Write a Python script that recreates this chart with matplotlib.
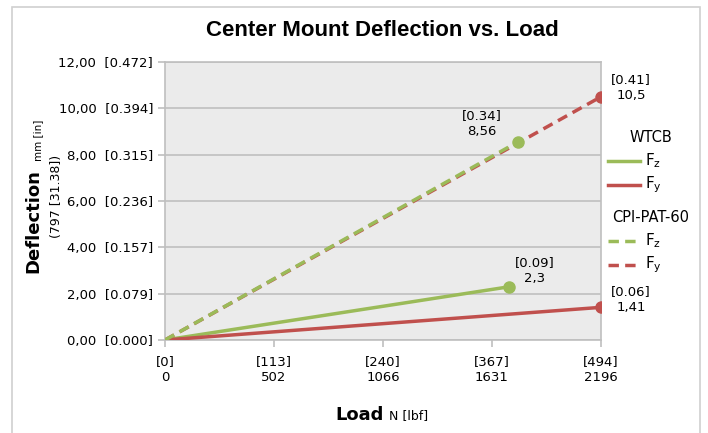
import matplotlib
matplotlib.use("Agg")
from matplotlib import pyplot as plt
from matplotlib.patches import Rectangle
from matplotlib.lines import Line2D
import numpy as np

# Data (load in N, deflection in mm)
wtcb_fz_x = [0, 1735]
wtcb_fz_y = [0, 2.3]
wtcb_fy_x = [0, 2196]
wtcb_fy_y = [0, 1.41]
cpi_fz_x = [0, 1779]
cpi_fz_y = [0, 8.56]
cpi_fy_x = [0, 2196]
cpi_fy_y = [0, 10.5]

xtick_labels = ["[0]\n0", "[113]\n502", "[240]\n1066", "[367]\n1631", "[494]\n2196"]
ytick_vals = [0, 2, 4, 6, 8, 10, 12]
ytick_labels = ["0,00  [0.000]", "2,00  [0.079]", "4,00  [0.157]", "6,00  [0.236]",
                "8,00  [0.315]", "10,00  [0.394]", "12,00  [0.472]"]

# end labels: (x, y, text, offset in pixels)
end_labels = [
    (2196, 10.5, "[0.41]\n10,5", (30, 9)),
    (1779, 8.56, "[0.34]\n8,56", (-36, 18)),
    (1735, 2.3, "[0.09]\n2,3", (25, 16)),
    (2196, 1.41, "[0.06]\n1,41", (30, 8)),
]

green = "#9BBB59"
red = "#C0504D"
gridc = "#BFBFBF"
dash = (0, (3, 1.8))

W, H = 708, 433
fig = plt.figure(figsize=(W / 100, H / 100), dpi=100)
ax = fig.add_axes([165 / W, 1 - 340 / H, 436 / W, 278 / H])
ax.set_facecolor("#EBEBEB")

# outer chart border
fig.patches.append(Rectangle((12 / W, -0.1), 688 / W, 1.1 - 7 / H, transform=fig.transFigure,
                             fill=False, edgecolor="#D0D0D0", linewidth=1.2))

ax.plot(wtcb_fz_x, wtcb_fz_y, color=green, lw=2.5, marker="o", ms=8, markevery=[-1],
        solid_capstyle="butt", zorder=3)
ax.plot(wtcb_fy_x, wtcb_fy_y, color=red, lw=2.5, marker="o", ms=8, markevery=[-1],
        solid_capstyle="butt", zorder=3)
ax.plot(cpi_fy_x, cpi_fy_y, color=red, lw=2.5, ls=dash, marker="o", ms=8,
        markevery=[-1], zorder=3)
ax.plot(cpi_fz_x, cpi_fz_y, color=green, lw=2.5, ls=dash, marker="o", ms=8,
        markevery=[-1], zorder=4)

for x, y, t, off in end_labels:
    ax.annotate(t, (x, y), xytext=off, textcoords="offset pixels", ha="center", va="center",
                fontsize=9.5, linespacing=1.25, annotation_clip=False)

ax.set_xlim(0, 2196)
ax.set_ylim(0, 12)
ax.set_xticks(np.linspace(0, 2196, 5))
ax.set_xticklabels(xtick_labels, fontsize=9.5, linespacing=1.3)
ax.set_yticks(ytick_vals)
ax.set_yticklabels(ytick_labels, fontsize=9.5)
ax.yaxis.grid(True, color=gridc, lw=1.2)
ax.set_axisbelow(True)
for s in ax.spines.values():
    s.set_color(gridc)
    s.set_linewidth(1.2)
ax.tick_params(axis="both", colors=gridc, labelcolor="black", length=5, width=1.2)
ax.tick_params(axis="x", pad=6)

# title
fig.text(382 / W, 1 - 30 / H, "Center Mount Deflection vs. Load", ha="center", va="center",
         fontsize=16, fontweight="bold", family="Liberation Sans")

# axis titles
fig.text(384 / W, 1 - 415 / H, "Load", ha="right", va="center", fontsize=13, fontweight="bold")
fig.text(389 / W, 1 - 416 / H, "N [lbf]", ha="left", va="center", fontsize=9)
fig.text(33 / W, 1 - 273 / H, "Deflection", rotation=90, ha="center", va="bottom",
         fontsize=13, fontweight="bold")
fig.text(38 / W, 1 - 120 / H, "mm [in]", rotation=90, ha="center", va="top", fontsize=7.5)
fig.text(57 / W, 1 - 196 / H, "(797 [31.38])", rotation=90, ha="center", va="center", fontsize=9)

# legend drawn by hand: group title, then entries (label, colour, style)
legend_groups = [
    ("WTCB", 137, [("F$_\\mathregular{z}$", green, "-"), ("F$_\\mathregular{y}$", red, "-")]),
    ("CPI-PAT-60", 217, [("F$_\\mathregular{z}$", green, dash), ("F$_\\mathregular{y}$", red, dash)]),
]
for title, ty, entries in legend_groups:
    fig.text(651 / W, 1 - ty / H, title, ha="center", va="center", fontsize=10.5)
    for i, (lab, c, ls) in enumerate(entries):
        yy = 1 - (ty + 24 + 24 * i) / H
        fig.add_artist(Line2D([608 / W, 640 / W], [yy, yy], color=c, lw=2.5, ls=ls,
                              transform=fig.transFigure))
        fig.text(645 / W, yy, lab, ha="left", va="center", fontsize=11)

fig.savefig("out.png", dpi=100)
